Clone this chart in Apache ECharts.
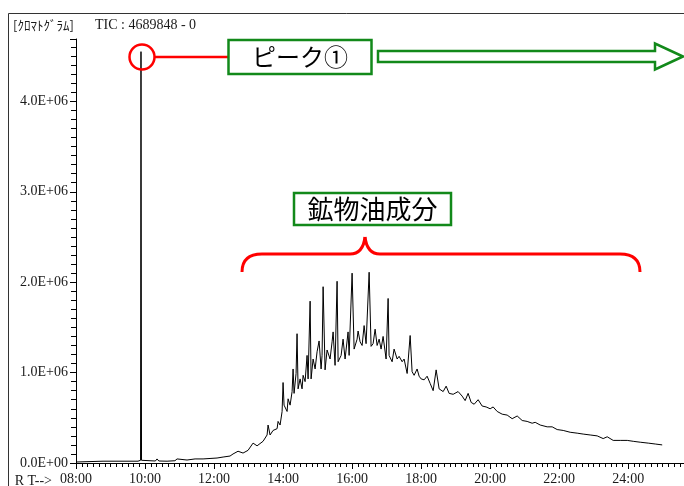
<!DOCTYPE html>
<html>
<head>
<meta charset="utf-8">
<script src="https://cdn.jsdelivr.net/npm/echarts/dist/echarts.min.js"></script>
<style>
html,body{margin:0;padding:0;background:#fff;}
#chart{width:684px;height:486px;}
</style>
</head>
<body>
<div id="chart"></div>
<script>
// Retention time (minutes)
const rtMinutes = [
  480.0, 527.0, 587.8, 592.2, 593.0, 593.9, 596.5, 618.0, 620.9, 624.0,
  638.3, 652.0, 655.7, 659.0, 673.0, 687.0, 700.9, 713.0, 725.2, 735.7,
  747.8, 753.0, 761.7, 770.4, 779.1, 787.8, 794.8, 805.2, 812.2, 813.9,
  817.4, 822.6, 829.6, 831.3, 834.8, 838.3, 840.0, 841.7, 847.0, 848.7,
  852.2, 855.7, 857.4, 859.1, 862.6, 864.3, 866.1, 869.6, 873.0, 874.8,
  878.3, 881.7, 883.5, 887.0, 888.7, 892.2, 895.7, 899.1, 902.6, 906.1,
  907.8, 909.6, 913.0, 916.5, 921.7, 925.2, 927.0, 930.4, 933.9, 935.7,
  940.9, 944.3, 947.8, 953.0, 954.8, 960.0, 963.5, 968.7, 970.4, 973.9,
  977.4, 980.9, 984.3, 989.6, 993.0, 996.5, 1000.0, 1003.5, 1007.0, 1010.4,
  1013.9, 1019.1, 1022.6, 1024.3, 1029.6, 1033.0, 1038.3, 1041.7, 1047.0, 1050.4,
  1055.7, 1057.4, 1060.9, 1064.3, 1067.8, 1073.0, 1076.5, 1080.0, 1085.2, 1090.4,
  1095.7, 1100.9, 1106.1, 1111.3, 1118.3, 1123.5, 1128.7, 1135.7, 1144.3, 1151.3,
  1156.5, 1161.7, 1167.0, 1172.2, 1179.1, 1186.1, 1193.0, 1200.0, 1205.2, 1212.2,
  1220.9, 1229.6, 1238.3, 1247.0, 1255.7, 1264.3, 1273.0, 1278.3, 1287.0, 1299.1,
  1307.8, 1316.5, 1327.0, 1339.1, 1351.3, 1361.7, 1373.9, 1386.1, 1396.5, 1403.5,
  1413.9, 1426.1, 1438.3, 1448.7, 1460.9, 1474.8, 1487.0, 1499.1
];
// TIC intensity
const ticValues = [
  11000, 20000, 20000, 30000, 4550000, 30000, 20000, 22000, 45000, 22000,
  20000, 25000, 45000, 28000, 33000, 45000, 45000, 50000, 55000, 66000,
  77000, 100000, 130000, 110000, 140000, 220000, 190000, 240000, 310000, 420000,
  310000, 360000, 380000, 460000, 420000, 570000, 890000, 640000, 570000, 710000,
  640000, 790000, 1040000, 770000, 990000, 1430000, 820000, 930000, 820000, 970000,
  900000, 1190000, 930000, 1790000, 930000, 1150000, 1040000, 1230000, 1350000, 1040000,
  1190000, 1950000, 1030000, 1250000, 1150000, 1340000, 1450000, 1080000, 2010000, 1120000,
  1190000, 1370000, 1150000, 1450000, 1190000, 2100000, 1260000, 1370000, 1460000, 1340000,
  1300000, 1520000, 1320000, 2110000, 1290000, 1320000, 1480000, 1300000, 1370000, 1260000,
  1400000, 1150000, 1820000, 1190000, 1120000, 1260000, 1150000, 1180000, 1120000, 1150000,
  990000, 970000, 1410000, 1010000, 970000, 1040000, 960000, 930000, 920000, 960000,
  880000, 800000, 1030000, 820000, 790000, 850000, 770000, 760000, 790000, 740000,
  690000, 770000, 670000, 650000, 700000, 630000, 620000, 600000, 620000, 570000,
  540000, 530000, 490000, 520000, 470000, 460000, 440000, 450000, 420000, 400000,
  400000, 370000, 360000, 340000, 330000, 320000, 310000, 300000, 270000, 290000,
  250000, 250000, 250000, 240000, 230000, 220000, 210000, 200000
];
const headerLabel = '[ｸﾛﾏﾄｸﾞﾗﾑ]';
const headerTic = 'TIC : 4689848 - 0';
const ticMax = 4689848;
const rtStart = 480, rtEnd = 1537;
const peakLabel = 'ピーク①';
const groupLabel = '鉱物油成分';
const rtPrefix = 'R T-->';

const data = rtMinutes.map((t, i) => [t, ticValues[i]]);
const chart = echarts.init(document.getElementById('chart'), null, {renderer: 'canvas'});
const axisFont = "Liberation Serif";
const textColor = '#1a1a1a';
const green = '#12891a', red = '#ff0000';
const redLine = {stroke: red, lineWidth: 3, fill: null};

chart.setOption({
  animation: false,
  backgroundColor: '#fff',
  grid: {left: 76, right: 0, top: 39, bottom: 21, containLabel: false},
  xAxis: {
    type: 'value', min: rtStart, max: rtEnd, interval: 120,
    axisLine: {show: true, lineStyle: {color: '#000', width: 1}},
    axisTick: {show: true, inside: false, length: 6, lineStyle: {color: '#000'}},
    minorTick: {show: true, splitNumber: 12, length: 4, lineStyle: {color: '#000'}},
    splitLine: {show: false},
    axisLabel: {
      showMaxLabel: false, margin: 9, color: textColor, fontSize: 14, fontFamily: axisFont,
      formatter: v => {
        const h = Math.floor(v / 60), m = Math.round(v % 60);
        return String(h).padStart(2, '0') + ':' + String(m).padStart(2, '0');
      }
    }
  },
  yAxis: {
    type: 'value', min: 0, max: ticMax, interval: 1000000,
    axisLine: {show: true, lineStyle: {color: '#000', width: 1}},
    axisTick: {show: true, inside: false, length: 6, lineStyle: {color: '#000'}},
    minorTick: {show: true, splitNumber: 10, length: 5, lineStyle: {color: '#000'}},
    splitLine: {show: false},
    axisLabel: {
      showMaxLabel: false, margin: 8, color: textColor, fontSize: 14, fontFamily: axisFont,
      formatter: v => v === 0 ? '0.0E+00' : (v / 1e6).toFixed(1) + 'E+06'
    }
  },
  series: [{
    type: 'line', data: data, symbol: 'none', smooth: false,
    lineStyle: {color: '#000', width: 1}, clip: true
  }],
  graphic: [
    {type: 'line', shape: {x1: 8.5, y1: 13.5, x2: 684, y2: 13.5}, style: {stroke: '#333', lineWidth: 1}},
    {type: 'line', shape: {x1: 8.5, y1: 13.5, x2: 8.5, y2: 486}, style: {stroke: '#333', lineWidth: 1}},
    {type: 'text', x: 13, y: 25, style: {text: headerLabel, fill: textColor, fontSize: 13, fontFamily: 'Noto Sans CJK JP', textVerticalAlign: 'middle'}},
    {type: 'text', x: 95, y: 25, style: {text: headerTic, fill: textColor, fontSize: 14, fontFamily: axisFont, textVerticalAlign: 'middle'}},
    {type: 'text', x: 52, y: 481, style: {text: rtPrefix, fill: textColor, fontSize: 14, fontFamily: axisFont, textAlign: 'right', textVerticalAlign: 'middle'}},
    {type: 'circle', shape: {cx: 142, cy: 57, r: 12.5}, style: {stroke: red, lineWidth: 2.5, fill: null}, z: 10},
    {type: 'line', shape: {x1: 155, y1: 57, x2: 228, y2: 57}, style: {stroke: red, lineWidth: 2.5}, z: 10},
    {type: 'rect', shape: {x: 228.5, y: 40, width: 143, height: 34}, style: {stroke: green, lineWidth: 2.5, fill: '#fff'}, z: 10},
    {type: 'text', x: 300, y: 57, style: {text: peakLabel, fill: '#000', fontSize: 24, fontFamily: 'Noto Sans CJK JP', textAlign: 'center', textVerticalAlign: 'middle'}, z: 11},
    {type: 'polygon', shape: {points: [[378, 51], [655, 51], [655, 43.5], [683, 56.5], [655, 69.5], [655, 62], [378, 62]]}, style: {stroke: green, lineWidth: 2.5, fill: '#fff'}, z: 10},
    {type: 'rect', shape: {x: 294, y: 193, width: 157, height: 32}, style: {stroke: green, lineWidth: 2.5, fill: '#fff'}, z: 10},
    {type: 'text', x: 372.5, y: 209, style: {text: groupLabel, fill: '#000', fontSize: 26, fontFamily: 'Noto Sans CJK JP', textAlign: 'center', textVerticalAlign: 'middle'}, z: 11},
    // curly brace
    {type: 'bezierCurve', shape: {x1: 242, y1: 272, cpx1: 242, cpy1: 254, x2: 262, y2: 254}, style: redLine, z: 10},
    {type: 'line', shape: {x1: 262, y1: 254, x2: 350, y2: 254}, style: redLine, z: 10},
    {type: 'bezierCurve', shape: {x1: 350, y1: 254, cpx1: 363, cpy1: 254, x2: 365, y2: 237}, style: redLine, z: 10},
    {type: 'bezierCurve', shape: {x1: 365, y1: 237, cpx1: 367, cpy1: 254, x2: 380, y2: 254}, style: redLine, z: 10},
    {type: 'line', shape: {x1: 380, y1: 254, x2: 620, y2: 254}, style: redLine, z: 10},
    {type: 'bezierCurve', shape: {x1: 620, y1: 254, cpx1: 640, cpy1: 254, x2: 640, y2: 272}, style: redLine, z: 10}
  ]
});
</script>
</body>
</html>
